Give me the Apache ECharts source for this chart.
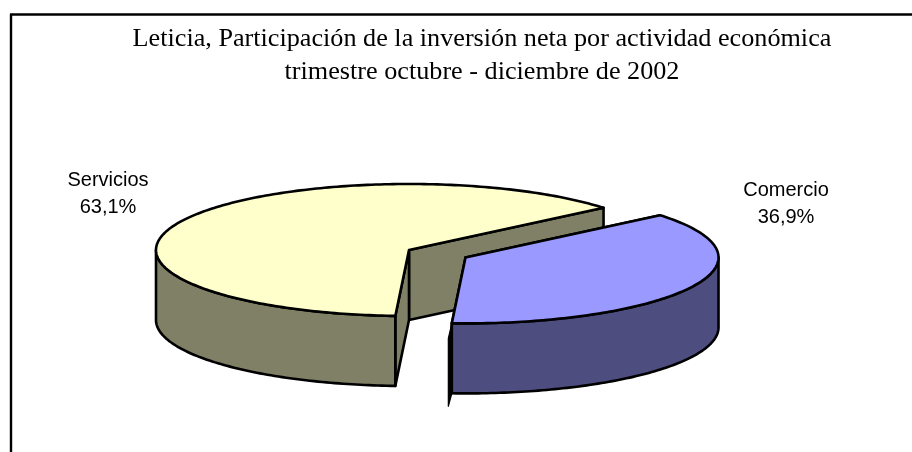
<!DOCTYPE html>
<html>
<head>
<meta charset="utf-8">
<style>html,body{margin:0;padding:0;background:#fff}#c{width:912px;height:452px}</style>
<script src="https://cdn.jsdelivr.net/npm/echarts@6/dist/echarts.min.js"></script>
</head>
<body>
<div id="c"></div>
<script>
const titleLines = ['Leticia, Participación de la inversión neta por actividad económica', 'trimestre octubre - diciembre de 2002'];
const categories = ['Servicios', 'Comercio'];
const values = [63.1, 36.9];
const decimalSep = ',';

// Pie geometry
const CX = 409, CY = 250, RX = 253, RY = 66, DEPTH = 70, EXPLODE = 0.25;
const START_DEG = 93.1;
const topColors = ['#ffffcc', '#9999ff'];
const sideColors = ['#808066', '#4d4d80'];
const LABEL_POS = [[108, 194], [786, 204]];
const EXPLODED_INDEX = 1;

const total = values.reduce((a, b) => a + b, 0);
const chart = echarts.init(document.getElementById('c'), null, {renderer: 'canvas'});

function arcPts(cx, cy, a0, a1, dy) {
  const pts = [];
  const n = Math.max(2, Math.ceil(Math.abs(a1 - a0)));
  for (let i = 0; i <= n; i++) {
    const t = (a0 + (a1 - a0) * i / n) * Math.PI / 180;
    pts.push([cx + RX * Math.cos(t), cy + RY * Math.sin(t) + dy]);
  }
  return pts;
}
const lineStyle = (fill) => ({fill, stroke: '#000', lineWidth: 2.6, lineJoin: 'round'});
const poly = (points, fill) => ({type: 'polygon', shape: {points}, style: lineStyle(fill)});

function renderItem(params, api) {
  const i = params.dataIndex;
  let before = 0;
  for (let k = 0; k < i; k++) before += values[k];
  const span = api.value(0) / total * 360;
  const a0 = START_DEG + before / total * 360;
  const a1 = a0 + span;
  const mid = (a0 + a1) / 2 * Math.PI / 180;
  const ex = i === EXPLODED_INDEX ? EXPLODE : 0;
  const cx = CX + ex * RX * Math.cos(mid);
  const cy = CY + ex * RY * Math.sin(mid);
  const top = arcPts(cx, cy, a0, a1, 0);
  const first = top[0], last = top[top.length - 1];
  const children = [];
  const wall = (p) => poly([[cx, cy], p, [p[0], p[1] + DEPTH], [cx, cy + DEPTH]], sideColors[i]);
  children.push(wall(last));
  children.push(wall(first));
  // Outer rim: only the front half of the ellipse faces the viewer
  let w0 = a0, w1 = a1;
  if (i === EXPLODED_INDEX) { w0 = Math.max(a0, 360); }
  else { w1 = Math.min(a1, 180); }
  const rimTop = arcPts(cx, cy, w0, w1, 0);
  const rimBottom = arcPts(cx, cy, w0, w1, DEPTH).reverse();
  children.push(poly(rimTop.concat(rimBottom), sideColors[i]));
  if (i === EXPLODED_INDEX) {
    // thin dark sliver at the near edge of the exploded slice
    children.push({type: 'polygon', shape: {points: [
      [last[0], last[1]], [last[0] - 3.5, last[1] + 15], [last[0] - 3.5, last[1] + DEPTH + 13], [last[0], last[1] + DEPTH]
    ]}, style: {fill: '#000', stroke: '#000', lineWidth: 1.2, lineJoin: 'round'}});
  }
  children.push(poly([[cx, cy]].concat(top), topColors[i]));
  children.push({
    type: 'text', z2: 50,
    style: {
      x: LABEL_POS[i][0], y: LABEL_POS[i][1],
      text: api.value(1) + '\n' + String(api.value(0).toFixed(1)).replace('.', decimalSep) + '%',
      fill: '#000', font: '20px "Liberation Sans"', align: 'center', verticalAlign: 'middle', lineHeight: 27
    }
  });
  return {type: 'group', children};
}

chart.setOption({
  animation: false,
  backgroundColor: '#fff',
  title: {
    text: titleLines.join('\n'), left: 477, top: 18, textAlign: 'center',
    textStyle: {fontFamily: '"Liberation Serif"', fontSize: 26.2, fontWeight: 'normal', color: '#000', lineHeight: 33}
  },
  graphic: [
    {type: 'line', shape: {x1: 10, y1: 14.5, x2: 912, y2: 14.5}, style: {stroke: '#000', lineWidth: 2.4}},
    {type: 'line', shape: {x1: 11, y1: 14, x2: 11, y2: 452}, style: {stroke: '#000', lineWidth: 2.4}}
  ],
  series: [{
    type: 'custom',
    coordinateSystem: 'none',
    clip: false,
    renderItem,
    dimensions: ['value', 'name'],
    data: categories.map((c, i) => [values[i], c])
  }]
});
</script>
</body>
</html>
